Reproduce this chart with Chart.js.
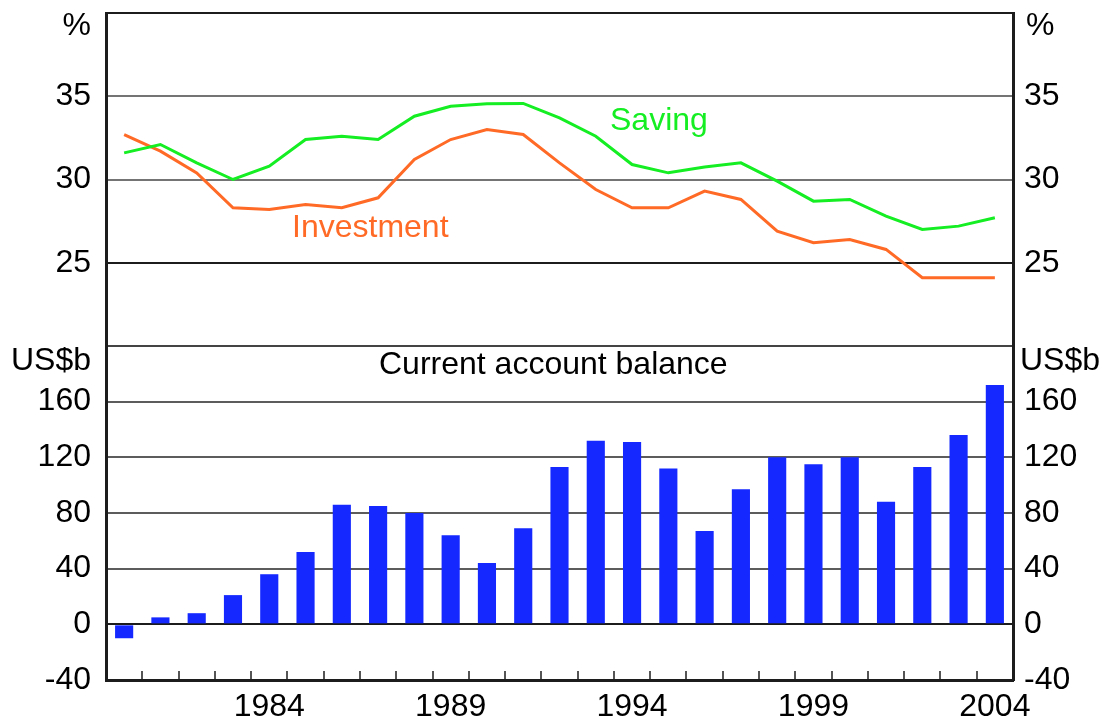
<!DOCTYPE html>
<html>
<head>
<meta charset="utf-8">
<script src="https://cdn.jsdelivr.net/npm/chart.js@4.4.1/dist/chart.umd.min.js"></script>
<style>
  html, body { margin: 0; padding: 0; background: #fff; }
  .wrap { position: relative; width: 1104px; height: 719px; overflow: hidden; }
  .wrap canvas { position: absolute; left: 0; top: 0; }
</style>
</head>
<body>
<div class="wrap">
  <canvas id="top-chart" width="1104" height="719"></canvas>
  <canvas id="bottom-chart" width="1104" height="719"></canvas>
</div>
<script>
// Data
const years = [1980, 1981, 1982, 1983, 1984, 1985, 1986, 1987, 1988, 1989, 1990, 1991, 1992,
  1993, 1994, 1995, 1996, 1997, 1998, 1999, 2000, 2001, 2002, 2003, 2004];
const saving = [31.6, 32.1, 31.0, 30.0, 30.8, 32.4, 32.6, 32.4, 33.8, 34.4, 34.55, 34.57, 33.7,
  32.6, 30.9, 30.4, 30.75, 31.0, 29.9, 28.7, 28.8, 27.8, 27.0, 27.2, 27.7];
const investment = [32.7, 31.7, 30.4, 28.3, 28.2, 28.5, 28.3, 28.9, 31.2, 32.4, 33.0, 32.7, 31.0,
  29.4, 28.3, 28.3, 29.3, 28.8, 26.9, 26.2, 26.4, 25.8, 24.1, 24.1, 24.1];
const currentAccount = [-10, 5, 8, 21, 36, 52, 86, 85, 80, 64, 44, 69, 113,
  132, 131, 112, 67, 97, 120, 115, 120, 88, 113, 136, 172];
const pctTicks = [25, 30, 35];
const usdTicks = [-40, 0, 40, 80, 120, 160];
const labelledYears = [1984, 1989, 1994, 1999, 2004];

const FONT = "'Liberation Sans', Arial, sans-serif";
Chart.defaults.font.family = FONT;
Chart.defaults.font.size = 32;
Chart.defaults.color = '#000';

const FRAME = '#1c1c1c';
const GRID = '#747474';

// fixed axis box sizes so both panels share the same plot area
const fixWidth = w => s => { s.width = w; s.paddingTop = 0; s.paddingBottom = 0; };

// plain text annotations (units, series names, panel title)
const textPlugin = {
  id: 'texts',
  afterDraw(chart, args, opts) {
    const ctx = chart.ctx;
    ctx.save();
    ctx.font = '32px ' + FONT;
    ctx.textBaseline = 'middle';
    opts.items.forEach(t => {
      ctx.fillStyle = t.color || '#000';
      ctx.textAlign = t.align || 'left';
      ctx.fillText(t.text, t.x, t.y);
    });
    ctx.restore();
  }
};

// Top panel: saving and investment, % of GDP
new Chart(document.getElementById('top-chart'), {
  type: 'line',
  data: {
    labels: years,
    datasets: [
      { label: 'Saving', data: saving, borderColor: '#14ee22', borderWidth: 3, pointRadius: 0, tension: 0 },
      { label: 'Investment', data: investment, borderColor: '#ff6a26', borderWidth: 3, pointRadius: 0, tension: 0 }
    ]
  },
  options: {
    responsive: false,
    devicePixelRatio: 1,
    animation: false,
    layout: { padding: { left: 0, right: 0, top: 13, bottom: 373 } },
    plugins: {
      legend: { display: false },
      tooltip: { enabled: false },
      texts: {
        items: [
          { text: '%', x: 91, y: 26, align: 'right' },
          { text: '%', x: 1026, y: 26 },
          { text: 'Saving', x: 610, y: 121, color: '#14ee22' },
          { text: 'Investment', x: 292, y: 228, color: '#ff6a26' }
        ]
      }
    },
    scales: {
      x: { type: 'category', offset: true, display: false },
      y: {
        position: 'left', min: 20, max: 40,
        afterFit: fixWidth(106),
        afterBuildTicks: s => { s.ticks = [20, ...pctTicks, 40].map(v => ({ value: v })); },
        ticks: { padding: 15, callback: v => pctTicks.includes(v) ? v : '' },
        grid: {
          drawTicks: false, lineWidth: 2,
          color: c => c.tick.value === 25 || c.tick.value === 40 ? FRAME : (c.tick.value === 20 ? '#444' : GRID)
        },
        border: { display: true, color: FRAME, width: 3 }
      },
      y2: {
        position: 'right', min: 20, max: 40,
        afterFit: fixWidth(91),
        afterBuildTicks: s => { s.ticks = pctTicks.map(v => ({ value: v })); },
        ticks: { padding: 11 },
        grid: { display: false, drawTicks: false },
        border: { display: true, color: FRAME, width: 3 }
      }
    }
  },
  plugins: [textPlugin]
});

// Bottom panel: current account balance, US$b
new Chart(document.getElementById('bottom-chart'), {
  type: 'bar',
  data: {
    labels: years,
    datasets: [
      { label: 'Current account balance', data: currentAccount, backgroundColor: '#1428ff',
        barPercentage: 0.5, categoryPercentage: 1 }
    ]
  },
  options: {
    responsive: false,
    devicePixelRatio: 1,
    animation: false,
    layout: { padding: { left: 0, right: 0, top: 346, bottom: 0 } },
    plugins: {
      legend: { display: false },
      tooltip: { enabled: false },
      texts: {
        items: [
          { text: 'US$b', x: 91, y: 361, align: 'right' },
          { text: 'US$b', x: 1020, y: 361 },
          { text: 'Current account balance', x: 379, y: 365 }
        ]
      }
    },
    scales: {
      x: {
        type: 'category',
        afterFit: s => { s.height = 39; },
        ticks: {
          autoSkip: false, maxRotation: 0, padding: 17,
          callback: function (v) {
            const yr = this.getLabelForValue(v);
            return labelledYears.includes(yr) ? String(yr) : '';
          }
        },
        grid: { offset: true, drawOnChartArea: false, drawTicks: true, tickLength: -9, color: '#555', lineWidth: 2 },
        border: { display: true, color: FRAME, width: 3 }
      },
      y: {
        position: 'left', min: -40, max: 200,
        afterFit: fixWidth(106),
        afterBuildTicks: s => { s.ticks = [...usdTicks, 200].map(v => ({ value: v })); },
        ticks: { padding: 15, callback: v => usdTicks.includes(v) ? v : '' },
        grid: {
          drawTicks: false, lineWidth: 2,
          color: c => c.tick.value === 0 || c.tick.value === -40 ? FRAME : (c.tick.value === 200 ? '#444' : '#5c5c5c')
        },
        border: { display: true, color: FRAME, width: 3 }
      },
      y2: {
        position: 'right', min: -40, max: 200,
        afterFit: fixWidth(91),
        afterBuildTicks: s => { s.ticks = usdTicks.map(v => ({ value: v })); },
        ticks: { padding: 11 },
        grid: { display: false, drawTicks: false },
        border: { display: true, color: FRAME, width: 3 }
      }
    }
  },
  plugins: [textPlugin]
});
</script>
</body>
</html>
